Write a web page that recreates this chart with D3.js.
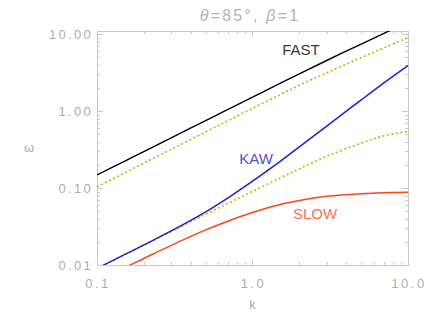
<!DOCTYPE html>
<html>
<head>
<meta charset="utf-8">
<script src="https://cdn.jsdelivr.net/npm/d3@7"></script>
<style>
  body { margin: 0; background: #fff; }
  svg { display: block; }
</style>
</head>
<body>
<div id="chart"></div>
<script>
// wave numbers where curves were sampled
var kVals = [0.1, 0.15, 0.2, 0.3, 0.5, 0.7, 1, 1.5, 2, 3, 5, 7, 10];

var fastVals  = [0.148, 0.223, 0.298, 0.45, 0.755, 1.06, 1.52, 2.29, 3.05, 4.55, 7.45, 10.25, 14.4];
var upperVals = [0.104, 0.157, 0.211, 0.318, 0.536, 0.755, 1.085, 1.63, 2.17, 3.15, 4.95, 6.65, 9.0];
var kawVals   = [0.00905, 0.0136, 0.0182, 0.0277, 0.049, 0.0751, 0.123, 0.221, 0.343, 0.638, 1.40, 2.33, 3.91];
var lowerVals = [0.00905, 0.0136, 0.0181, 0.0272, 0.0456, 0.0638, 0.0905, 0.1346, 0.178, 0.258, 0.384, 0.477, 0.545];
var slowVals  = [0.0061, 0.0092, 0.01215, 0.018, 0.0286, 0.0374, 0.048, 0.061, 0.069, 0.078, 0.0845, 0.087, 0.088];

var xTickVals = [0.1, 1, 10];
var xTickLabels = ['0.1', '1.0', '10.0'];
var yTickVals = [0.01, 0.1, 1, 10];
var yTickLabels = ['0.01', '0.10', '1.00', '10.00'];

(function () {
  var width = 436, height = 327;
  var plotLeft = 97, plotRight = 408, plotTop = 31, plotBottom = 265;
  var axisColor = '#c8c8c8';
  var textColor = '#acacac';

  var svg = d3.select('#chart').append('svg')
    .attr('width', width)
    .attr('height', height)
    .style('font-family', '"Liberation Sans", Arial, sans-serif');

  var x = d3.scaleLog().domain([0.1, 10]).range([plotLeft, plotRight]);
  var y = d3.scaleLog().domain([0.01, 11]).range([plotBottom, plotTop]);

  svg.append('clipPath').attr('id', 'plotClip')
    .append('rect')
    .attr('x', plotLeft).attr('y', plotTop)
    .attr('width', plotRight - plotLeft).attr('height', plotBottom - plotTop);

  // minor ticks at 2..9 of each decade
  var minorX = [];
  [0.1, 1].forEach(function (d) {
    for (var i = 2; i <= 9; i++) minorX.push(d * i);
  });
  var minorY = [];
  [0.01, 0.1, 1, 10].forEach(function (d) {
    for (var i = 2; i <= 9; i++) if (d * i <= 11) minorY.push(d * i);
  });

  var axes = svg.append('g')
    .attr('stroke', axisColor)
    .attr('stroke-width', 1)
    .attr('fill', 'none')
    .attr('shape-rendering', 'crispEdges');

  axes.append('rect')
    .attr('x', plotLeft + 0.5).attr('y', plotTop + 0.5)
    .attr('width', plotRight - plotLeft).attr('height', plotBottom - plotTop);

  function xTicks(vals, len) {
    vals.forEach(function (v) {
      var px = Math.round(x(v)) + 0.5;
      axes.append('line').attr('x1', px).attr('x2', px).attr('y1', plotBottom).attr('y2', plotBottom - len);
      axes.append('line').attr('x1', px).attr('x2', px).attr('y1', plotTop).attr('y2', plotTop + len);
    });
  }
  function yTicks(vals, len) {
    vals.forEach(function (v) {
      var py = Math.round(y(v)) + 0.5;
      axes.append('line').attr('y1', py).attr('y2', py).attr('x1', plotLeft).attr('x2', plotLeft + len);
      axes.append('line').attr('y1', py).attr('y2', py).attr('x1', plotRight).attr('x2', plotRight - len);
    });
  }
  xTicks(xTickVals, 6);
  xTicks(minorX, 3);
  yTicks(yTickVals, 6);
  yTicks(minorY, 3);

  // tick labels (wide, thin IDL-style lettering)
  svg.append('g').selectAll('text')
    .data(xTickVals).enter()
    .append('text')
    .attr('x', function (d) { return x(d) + 1; })
    .attr('y', 288)
    .attr('text-anchor', 'middle')
    .attr('font-size', 13)
    .attr('letter-spacing', 2.5)
    .attr('fill', textColor)
    .text(function (d, i) { return xTickLabels[i]; });

  svg.append('g').selectAll('text')
    .data(yTickVals).enter()
    .append('text')
    .attr('x', plotLeft - 4)
    .attr('y', function (d) { return y(d) + 4.5; })
    .attr('text-anchor', 'end')
    .attr('font-size', 13)
    .attr('letter-spacing', 2.3)
    .attr('fill', textColor)
    .text(function (d, i) { return yTickLabels[i]; });

  // axis titles
  svg.append('text')
    .attr('x', x(1)).attr('y', 309)
    .attr('text-anchor', 'middle')
    .attr('font-size', 13)
    .attr('fill', textColor)
    .text('k');

  svg.append('text')
    .attr('x', 29).attr('y', 152)
    .attr('text-anchor', 'middle')
    .attr('font-size', 13)
    .attr('fill', textColor)
    .text('ω');

  var title = svg.append('text')
    .attr('x', 250).attr('y', 21)
    .attr('text-anchor', 'middle')
    .attr('font-size', 16)
    .attr('letter-spacing', 2.2)
    .attr('fill', '#b4b4b4');
  title.append('tspan').attr('font-style', 'italic').text('θ');
  title.append('tspan').text('=85°,  ');
  title.append('tspan').attr('font-style', 'italic').text('β');
  title.append('tspan').text('=1');

  // curves
  var line = d3.line()
    .x(function (d) { return x(d[0]); })
    .y(function (d) { return y(d[1]); })
    .curve(d3.curveCatmullRom.alpha(0.5));

  function pairs(vals) {
    return kVals.map(function (k, i) { return [k, vals[i]]; });
  }

  var plot = svg.append('g').attr('clip-path', 'url(#plotClip)').attr('fill', 'none');

  var series = [
    { vals: upperVals, color: '#d4aa00', width: 1.6, dash: '2,2.5' },
    { vals: lowerVals, color: '#d4aa00', width: 1.6, dash: '2,2.5' },
    { vals: fastVals, color: '#000000', width: 1.4, dash: null },
    { vals: kawVals, color: '#1a1ae0', width: 1.4, dash: null },
    { vals: slowVals, color: '#ff4418', width: 1.5, dash: null }
  ];

  series.forEach(function (s) {
    plot.append('path')
      .attr('d', line(pairs(s.vals)))
      .attr('stroke', s.color)
      .attr('stroke-width', s.width)
      .attr('stroke-dasharray', s.dash);
  });

  // curve labels
  svg.append('text').attr('x', 301).attr('y', 55).attr('text-anchor', 'middle')
    .attr('font-size', 15).attr('fill', '#3a3a3a').text('FAST');
  svg.append('text').attr('x', 256).attr('y', 164).attr('text-anchor', 'middle')
    .attr('font-size', 15).attr('fill', '#5050e0').text('KAW');
  svg.append('text').attr('x', 315).attr('y', 219).attr('text-anchor', 'middle')
    .attr('font-size', 15).attr('fill', '#ff7050').text('SLOW');
})();
</script>
</body>
</html>
